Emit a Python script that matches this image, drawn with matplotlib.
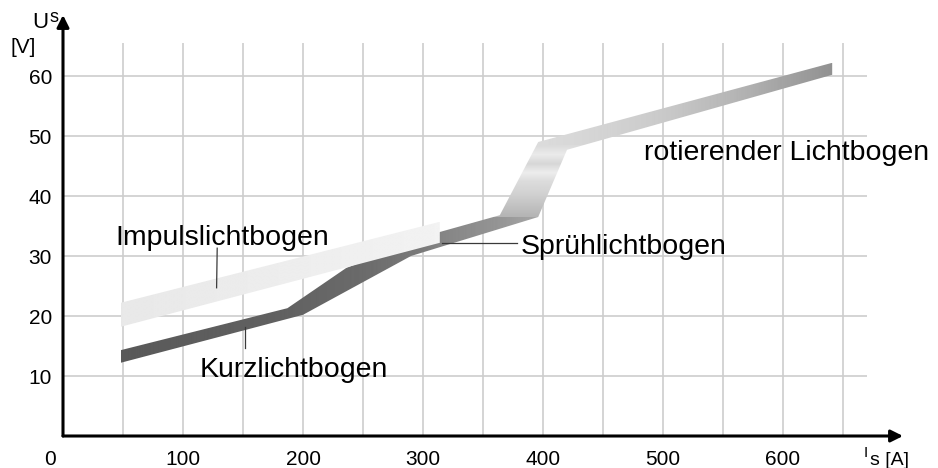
import numpy as np
import matplotlib
matplotlib.use("Agg")
import matplotlib.pyplot as plt
from matplotlib import font_manager
from matplotlib.patches import Polygon

# Band outlines (current I in A, voltage U in V)
main_upper_a = [48, 187, 236, 314, 364, 396, 641]
main_upper_v = [14.3, 21.3, 28.0, 34.0, 36.8, 49.0, 62.2]
main_lower_a = [48, 200, 290, 396, 420, 641]
main_lower_v = [12.2, 20.2, 30.0, 36.5, 47.7, 60.2]

impuls_upper_a = [48, 314]
impuls_upper_v = [22.2, 35.7]
impuls_lower_a = [48, 314]
impuls_lower_v = [18.2, 32.2]

# shading stops along the bands (grey level 0..1)
lower_shade_a = [48, 180, 250, 300, 315, 360, 400]
lower_shade_g = [0.35, 0.38, 0.42, 0.48, 0.52, 0.58, 0.66]
steep_shade_v = [36.5, 38.5, 40.5, 42.5, 44.0, 45.5, 47.0, 48.5]
steep_shade_g = [0.70, 0.76, 0.82, 0.86, 0.93, 0.84, 0.92, 0.86]
rot_shade_a = [396, 450, 500, 560, 600, 641]
rot_shade_g = [0.86, 0.83, 0.79, 0.71, 0.64, 0.57]
impuls_shade_a = [48, 314]
impuls_shade_g = [0.91, 0.95]

x_ticks = [100, 200, 300, 400, 500, 600]
y_ticks = [10, 20, 30, 40, 50, 60]
x_grid = np.arange(50, 651, 50)

labels = {
    "Impulslichtbogen": (43.3, 31.8),
    "Kurzlichtbogen": (114, 9.9),
    "Sprühlichtbogen": (381, 30.3),
    "rotierender Lichtbogen": (484, 46.0),
}
leaders = [
    ([128.5, 128], [31.3, 24.7]),
    ([152, 152], [18.2, 14.7]),
    ([316, 378], [32.2, 32.2]),
]

names = {f.name for f in font_manager.fontManager.ttflist}
if "Liberation Sans Narrow" in names:
    FONT, LBL, TCK = "Liberation Sans Narrow", 24, 16
else:
    FONT, LBL, TCK = "Liberation Sans", 20.5, 15
plt.rcParams["font.family"] = [FONT, "DejaVu Sans"]

X_END = 700
Y_END = 421 / 6

fig = plt.figure(figsize=(9.38, 4.68), dpi=100)
ax = fig.add_axes([63 / 938, 32 / 468, 842 / 938, 421 / 468])
for s in ax.spines.values():
    s.set_visible(False)

# grid
ax.vlines(x_grid, 0, 65.5, color="#cdcdcd", lw=1.2, zorder=0)
ax.hlines(y_ticks, 0, 670, color="#cdcdcd", lw=1.2, zorder=0)


def shaded_band(ua, uv, la, lv, shade, z):
    pts = list(zip(ua, uv)) + list(zip(la, lv))[::-1]
    poly = Polygon(pts, closed=True, facecolor="none", edgecolor="none")
    ax.add_patch(poly)
    a0, a1 = min(ua + la), max(ua + la)
    v0, v1 = min(uv + lv), max(uv + lv)
    A, V = np.meshgrid(np.linspace(a0, a1, 600), np.linspace(v0, v1, 300))
    img = ax.imshow(shade(A, V), extent=(a0, a1, v0, v1), origin="lower",
                    cmap="gray", vmin=0, vmax=1, aspect="auto",
                    interpolation="bilinear", zorder=z)
    img.set_clip_path(poly)


def main_shade(A, V):
    g = np.interp(A, lower_shade_a, lower_shade_g)
    g = np.where(V > 36.5, np.interp(V, steep_shade_v, steep_shade_g), g)
    g = np.where(V > 48.5, np.interp(A, rot_shade_a, rot_shade_g), g)
    return g


def impuls_shade(A, V):
    return np.interp(A, impuls_shade_a, impuls_shade_g)


shaded_band(main_upper_a, main_upper_v, main_lower_a, main_lower_v, main_shade, 2)
shaded_band(impuls_upper_a, impuls_upper_v, impuls_lower_a, impuls_lower_v,
            impuls_shade, 3)
ax.set_xlim(0, 842 / 1.2)
ax.set_ylim(0, Y_END)

for xs, ys in leaders:
    ax.plot(xs, ys, color="#3a3a3a", lw=0.9, zorder=4)

for txt, (x, y) in labels.items():
    ax.text(x, y, txt, fontsize=LBL, ha="left", va="baseline", zorder=5)

# axes with arrow heads
arrow = dict(arrowstyle="-|>,head_length=0.6,head_width=0.3", lw=2.2,
             color="black", mutation_scale=12, shrinkA=0, shrinkB=0)
ax.annotate("", xy=(X_END, 0), xytext=(0, 0), arrowprops=arrow,
            annotation_clip=False, zorder=6)
ax.annotate("", xy=(0, Y_END), xytext=(0, 0), arrowprops=arrow,
            annotation_clip=False, zorder=6)

ax.set_xticks(x_ticks, [str(t) for t in x_ticks])
ax.set_yticks(y_ticks, [str(t) for t in y_ticks])
ax.tick_params(axis="x", length=0, pad=10, labelsize=TCK)
ax.tick_params(axis="y", length=0, pad=8, labelsize=TCK)
ax.annotate("0", xy=(0, 0), xytext=(-13, -14), textcoords="offset pixels",
            ha="center", va="top", fontsize=TCK, annotation_clip=False)

# axis titles
ax.annotate("U", xy=(0, Y_END), xytext=(-31, -13), textcoords="offset pixels",
            ha="left", va="baseline", fontsize=16, annotation_clip=False)
ax.annotate("s", xy=(0, Y_END), xytext=(-14, -7), textcoords="offset pixels",
            ha="left", va="baseline", fontsize=13, annotation_clip=False)
ax.annotate("[V]", xy=(0, Y_END), xytext=(-40, -32), textcoords="offset pixels",
            ha="center", va="center", fontsize=15, annotation_clip=False)
ax.annotate("I", xy=(X_END, 0), xytext=(-39, -21), textcoords="offset pixels",
            ha="left", va="baseline", fontsize=11, annotation_clip=False)
ax.annotate("s [A]", xy=(X_END, 0), xytext=(-33, -29), textcoords="offset pixels",
            ha="left", va="baseline", fontsize=14, annotation_clip=False)

fig.savefig("out.png", dpi=100)
